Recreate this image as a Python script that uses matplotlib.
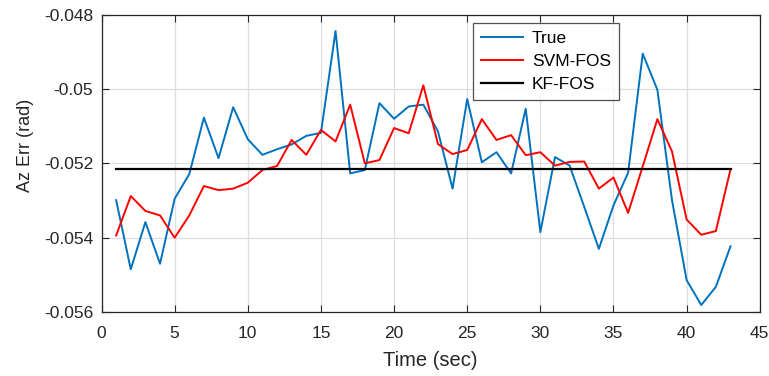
import numpy as np
import matplotlib.pyplot as plt

plt.rcParams['font.family'] = ['Liberation Sans', 'DejaVu Sans']

# time samples (sec)
time_sec = list(range(1, 44))

# azimuth error (rad)
az_true = [
    -0.05299, -0.05485, -0.05358, -0.05470, -0.05295, -0.05229, -0.05077,
    -0.05186, -0.05049, -0.05135, -0.05177, -0.05162, -0.05149, -0.05126,
    -0.05118, -0.04844, -0.05227, -0.05218, -0.05038, -0.05080, -0.05047,
    -0.05042, -0.05114, -0.05268, -0.05027, -0.05197, -0.05170, -0.05227,
    -0.05053, -0.05385, -0.05183, -0.05206, -0.05317, -0.05430, -0.05313,
    -0.05225, -0.04905, -0.05002, -0.05299, -0.05514, -0.05581, -0.05532,
    -0.05423,
]
az_svm = [
    -0.05394, -0.05288, -0.05328, -0.05340, -0.05400, -0.05340, -0.05261,
    -0.05272, -0.05268, -0.05252, -0.05218, -0.05207, -0.05137, -0.05177,
    -0.05110, -0.05141, -0.05042, -0.05200, -0.05191, -0.05105, -0.05119,
    -0.04990, -0.05148, -0.05175, -0.05164, -0.05081, -0.05137, -0.05124,
    -0.05178, -0.05170, -0.05206, -0.05196, -0.05195, -0.05268, -0.05238,
    -0.05333, -0.05208, -0.05081, -0.05168, -0.05351, -0.05392, -0.05382,
    -0.05216,
]
az_kf = [-0.05214] * len(time_sec)

fig = plt.figure(figsize=(7.69, 3.76), dpi=100)
ax = fig.add_axes([0.132, 0.170, 0.856, 0.791])

ax.plot(time_sec, az_true, color='#0072BD', lw=1.4, label='True')
ax.plot(time_sec, az_svm, color='#FF0000', lw=1.4, label='SVM-FOS')
ax.plot(time_sec, az_kf, color='black', lw=1.6, label='KF-FOS')

ax.set_xlim(0, 45)
ax.set_ylim(-0.056, -0.048)
ax.set_xticks(np.arange(0, 46, 5))
ax.set_yticks([-0.056, -0.054, -0.052, -0.05, -0.048])
ax.set_yticklabels(['-0.056', '-0.054', '-0.052', '-0.05', '-0.048'])

ax.grid(True, color='#dfdfdf', lw=0.9)
ax.set_axisbelow(True)
ax.tick_params(direction='in', top=True, right=True, length=5,
               labelsize=12.5, colors='#262626', width=0.8)
ax.tick_params(axis='x', pad=10)
ax.tick_params(axis='y', pad=6)
for s in ax.spines.values():
    s.set_color('#262626')
    s.set_linewidth(0.9)

ax.set_xlabel('Time (sec)', fontsize=14.5, color='#262626', labelpad=7)
ax.set_ylabel('Az Err (rad)', fontsize=13, color='#262626', labelpad=8)
ax.yaxis.set_label_coords(-0.103, 0.56)

leg = ax.legend(loc='upper right', bbox_to_anchor=(0.786, 0.972),
                fontsize=12.5, frameon=True, fancybox=False,
                handlelength=2.45, handletextpad=0.5, labelspacing=0.45,
                borderpad=0.45, borderaxespad=0)
leg.get_frame().set_edgecolor('#262626')
leg.get_frame().set_linewidth(0.9)

fig.savefig('out.png', dpi=100)
